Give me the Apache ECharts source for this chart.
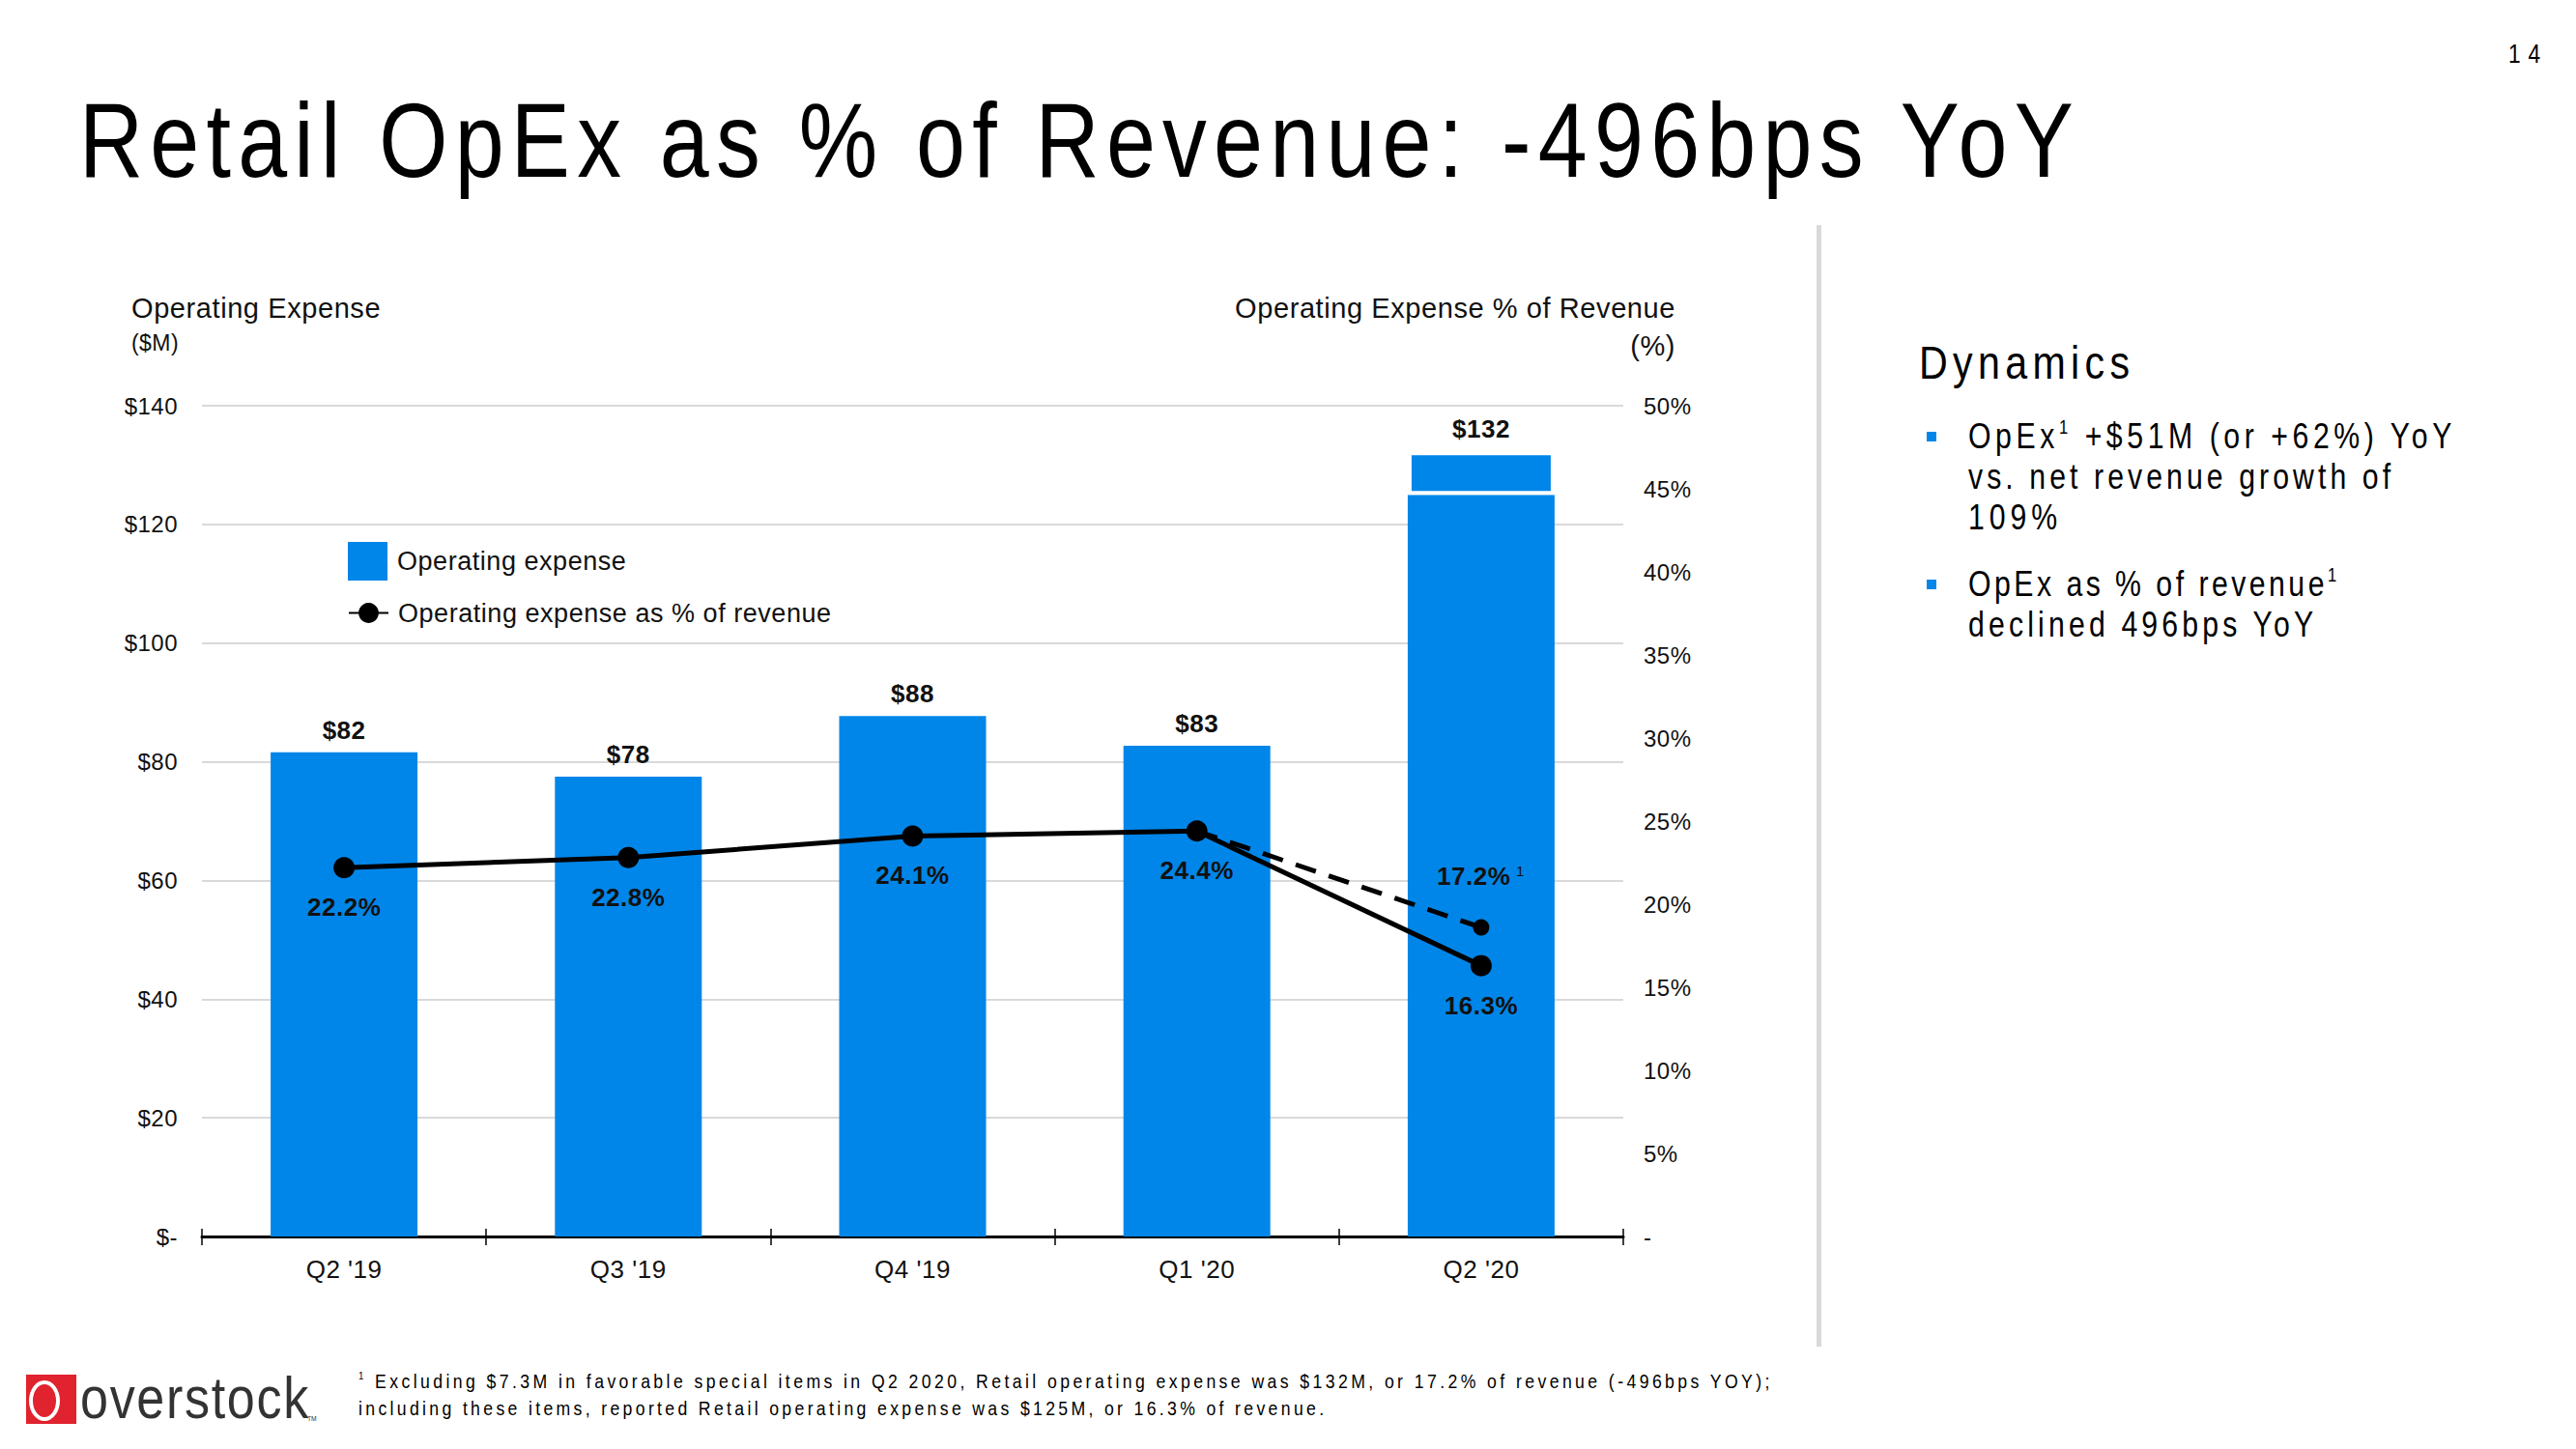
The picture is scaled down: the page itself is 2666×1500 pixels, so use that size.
<!DOCTYPE html>
<html>
<head>
<meta charset="utf-8">
<title>Retail OpEx as % of Revenue</title>
<script src="https://cdn.jsdelivr.net/npm/echarts@6/dist/echarts.min.js"></script>
<style>
  html, body { margin:0; padding:0; background:#ffffff; }
  #page { position:relative; width:2666px; height:1500px; overflow:hidden; background:#fff;
          font-family:"Liberation Sans Narrow","Arial Narrow","Liberation Sans",Arial,sans-serif; color:#000; }
  #chart { position:absolute; left:0; top:0; width:2666px; height:1500px; }
  .t { position:absolute; line-height:1; white-space:nowrap; transform-origin:0 50%; transform:translateY(-50%); }
  .t sup { font-size:0.55em; vertical-align:0; position:relative; top:-0.75em; }
  .bullet { position:absolute; width:10px; height:10px; background:#0086E8; }
</style>
<style id="chartText">#chart text { letter-spacing:0.1em; }</style>
</head>
<body>
<div id="page">
  <div id="chart"></div>

  <div class="t" data-w="2064" style="left:82px; top:145px; font-size:109px;">Retail OpEx as % of Revenue: -496bps YoY</div>
  <div class="t" data-w="33" style="left:2596px; top:56px; font-size:27px;">14</div>

  <div style="position:absolute; left:1880px; top:233px; width:5px; height:1161px; background:#d9d9d9;"></div>

  <div class="t" data-w="218" style="left:1986px; top:375px; font-size:49px;">Dynamics</div>
  <div class="bullet" style="left:1994px; top:447px;"></div>
  <div class="t" data-w="500" style="left:2037px; top:452px; font-size:36px;">OpEx<sup>1</sup> +$51M (or +62%) YoY</div>
  <div class="t" data-w="437" style="left:2037px; top:494px; font-size:36px;">vs. net revenue growth of</div>
  <div class="t" data-w="92" style="left:2037px; top:536px; font-size:36px;">109%</div>
  <div class="bullet" style="left:1994px; top:600px;"></div>
  <div class="t" data-w="381" style="left:2037px; top:605px; font-size:36px;">OpEx as % of revenue<sup>1</sup></div>
  <div class="t" data-w="357" style="left:2037px; top:647px; font-size:36px;">declined 496bps YoY</div>

  <div class="t" data-w="1460" style="left:371px; top:1429px; font-size:21px;"><sup>1</sup> Excluding $7.3M in favorable special items in Q2 2020, Retail operating expense was $132M, or 17.2% of revenue (-496bps YOY);</div>
  <div class="t" data-w="999" style="left:371px; top:1457px; font-size:21px;">including these items, reported Retail operating expense was $125M, or 16.3% of revenue.</div>

  <!-- logo -->
  <div style="position:absolute; left:27px; top:1423px; width:52px; height:51px; background:#E0232E; overflow:hidden;">
    <div style="position:absolute; left:3px; top:6px; width:32px; height:42px; border:4px solid #fff; border-radius:50%; box-sizing:border-box;"></div>
  </div>
  <div class="t" data-w="236" style="left:83px; top:1447px; font-size:62px; color:#333;">overstock</div>
  <div class="t" style="left:318px; top:1469px; font-size:8px; color:#333;">TM</div>
</div>

<script>
// ---------------- data ----------------
const categories = ["Q2 '19", "Q3 '19", "Q4 '19", "Q1 '20", "Q2 '20"];
const opexReported = [81.6, 77.5, 87.7, 82.7, 125.0];          // $M, reported retail operating expense
const opexSpecialItems = [null, null, null, null, 7.3];        // $M, favorable special items (Q2 2020)
const opexPctReported = [22.2, 22.8, 24.1, 24.4, 16.3];        // % of revenue
const opexPctExSpecial = [null, null, null, 24.4, 18.6];       // % of revenue excl. special items (as drawn)
const pctLabelsReported = ['22.2%', '22.8%', '24.1%', '24.4%', '16.3%'];
const pctLabelsExSpecial = [null, null, null, null, '17.2%'];
const leftAxisRange = [0, 140, 20];   // min, max, interval ($M)
const rightAxisRange = [0, 50, 5];    // min, max, interval (%)

// ---------------- fonts ----------------
function hasFont(name) {
  const c = document.createElement('canvas').getContext('2d');
  const s = 'abcdefghijklmnopqrstuvwxyzABCDEFGHIJ0123456789';
  c.font = '40px monospace';
  const a = c.measureText(s).width;
  c.font = '40px "' + name + '", monospace';
  const b = c.measureText(s).width;
  return a !== b;
}
const narrow = hasFont('Liberation Sans Narrow');
if (!narrow) document.getElementById('chartText').textContent = '#chart text { letter-spacing:0.02em; }';
const FONT = '"Liberation Sans Narrow","Arial Narrow","Liberation Sans",Arial,sans-serif';
const SX = narrow ? 1 : 0.84;   // emulate the condensed face when the narrow font is missing

function fitText() {
  document.querySelectorAll('.t').forEach(el => {
    el.style.transform = 'translateY(-50%) scaleX(' + SX + ')';
    if (!el.dataset.w) return;
    el.style.letterSpacing = '0px';
    const w = el.offsetWidth;
    const n = el.textContent.length;
    const ls = (parseFloat(el.dataset.w) / SX - w) / Math.max(1, n - 1);
    el.style.letterSpacing = ls.toFixed(2) + 'px';
  });
}
fitText();

// ---------------- chart ----------------
const BLUE = '#0086E8';
const INK = '#111111';
const chart = echarts.init(document.getElementById('chart'), null, { renderer: 'svg' });

const totals = opexReported.map((v, i) => v + (opexSpecialItems[i] || 0));

const option = {
  animation: false,
  backgroundColor: 'transparent',
  textStyle: { fontFamily: FONT, color: INK },
  grid: { left: 209, right: 986, top: 420, bottom: 220, containLabel: false, outerBoundsMode: 'none' },
  legend: [
    {
      data: ['Operating expense'], left: 360, top: 561, padding: 0, selectedMode: false,
      icon: 'rect', itemWidth: 41, itemHeight: 40,
      textStyle: { fontSize: 27, color: INK, fontFamily: FONT, padding: [0, 0, 0, 5] }
    },
    {
      data: ['Operating expense as % of revenue'], left: 360, top: 621, padding: 0, selectedMode: false,
      itemWidth: 41, itemHeight: 26,
      textStyle: { fontSize: 27, color: INK, fontFamily: FONT, padding: [0, 0, 0, 5] }
    }
  ],
  xAxis: [
    {
      type: 'category', data: categories, position: 'bottom',
      axisLine: { show: true, lineStyle: { color: '#000', width: 3 } },
      axisTick: { show: true, length: 9, lineStyle: { color: '#000', width: 1.5 } },
      axisLabel: { fontSize: 26, color: INK, margin: 21, fontFamily: FONT },
      splitLine: { show: false }
    },
    {
      type: 'category', data: categories, position: 'top', offset: -860,
      axisLine: { show: false },
      axisTick: { show: true, length: 8, lineStyle: { color: '#000', width: 1.5 } },
      axisLabel: { show: false },
      splitLine: { show: false }
    }
  ],
  yAxis: [
    {
      type: 'value', position: 'left',
      min: leftAxisRange[0], max: leftAxisRange[1], interval: leftAxisRange[2],
      axisLine: { show: false }, axisTick: { show: false },
      axisLabel: { fontSize: 24, color: INK, margin: 25, fontFamily: FONT,
                   formatter: v => v === 0 ? '$-' : '$' + v },
      splitLine: { show: true, lineStyle: { color: '#d9d9d9', width: 2 } }
    },
    {
      type: 'value', position: 'right',
      min: rightAxisRange[0], max: rightAxisRange[1], interval: rightAxisRange[2],
      axisLine: { show: false }, axisTick: { show: false },
      axisLabel: { fontSize: 24, color: INK, margin: 21, fontFamily: FONT,
                   formatter: v => v === 0 ? '-' : v + '%' },
      splitLine: { show: false }
    }
  ],
  graphic: [
    { type: 'text', x: 136, y: 319, style: { text: 'Operating Expense', fontSize: 29, fontFamily: FONT, fill: INK, align: 'left', verticalAlign: 'middle' } },
    { type: 'text', x: 136, y: 355, style: { text: '($M)', fontSize: 23, fontFamily: FONT, fill: INK, align: 'left', verticalAlign: 'middle' } },
    { type: 'text', x: 1734, y: 319, style: { text: 'Operating Expense % of Revenue', fontSize: 29, fontFamily: FONT, fill: INK, align: 'right', verticalAlign: 'middle' } },
    { type: 'text', x: 1734, y: 358, style: { text: '(%)', fontSize: 29, fontFamily: FONT, fill: INK, align: 'right', verticalAlign: 'middle' } }
  ],
  series: [
    {
      name: 'Operating expense', type: 'bar', stack: 'opex', barWidth: 152,
      data: opexReported, itemStyle: { color: BLUE },
      label: {
        show: true, position: 'top', distance: 10, fontSize: 26, fontWeight: 'bold', color: INK, fontFamily: FONT,
        formatter: p => opexSpecialItems[p.dataIndex] ? '' : '$' + Math.round(totals[p.dataIndex])
      },
      z: 2
    },
    {
      name: 'Operating expense', type: 'bar', stack: 'opex', barWidth: 152,
      data: opexSpecialItems, itemStyle: { color: BLUE, borderColor: '#ffffff', borderWidth: 4 },
      label: {
        show: true, position: 'top', distance: 10, fontSize: 26, fontWeight: 'bold', color: INK, fontFamily: FONT,
        formatter: p => p.value == null ? '' : '$' + Math.round(totals[p.dataIndex])
      },
      z: 2
    },
    {
      name: 'Operating expense as % of revenue', type: 'line', yAxisIndex: 1,
      data: opexPctReported, symbol: 'circle', symbolSize: 22,
      lineStyle: { color: '#000', width: 5 }, itemStyle: { color: '#000' },
      label: {
        show: true, position: 'bottom', distance: 17, fontSize: 26, fontWeight: 'bold', color: INK, fontFamily: FONT,
        formatter: p => pctLabelsReported[p.dataIndex]
      },
      z: 6
    },
    {
      name: 'Excluding special items', type: 'line', yAxisIndex: 1,
      data: opexPctExSpecial.map((v, i) => v == null ? null : { value: v, symbol: pctLabelsExSpecial[i] ? 'circle' : 'none' }),
      symbolSize: 17,
      lineStyle: { color: '#000', width: 5, type: [22, 14] }, itemStyle: { color: '#000' },
      label: {
        show: true, position: 'top', distance: 32, fontFamily: FONT,
        formatter: p => pctLabelsExSpecial[p.dataIndex] ? '{a|' + pctLabelsExSpecial[p.dataIndex] + '}{s|1}' : '',
        rich: {
          a: { fontSize: 26, fontWeight: 'bold', color: INK, fontFamily: FONT },
          s: { fontSize: 15, color: INK, fontFamily: FONT, verticalAlign: 'top', padding: [0, 0, 0, 7] }
        }
      },
      z: 5
    }
  ]
};
chart.setOption(option);

if (document.fonts && document.fonts.ready) document.fonts.ready.then(fitText);
</script>
</body>
</html>
